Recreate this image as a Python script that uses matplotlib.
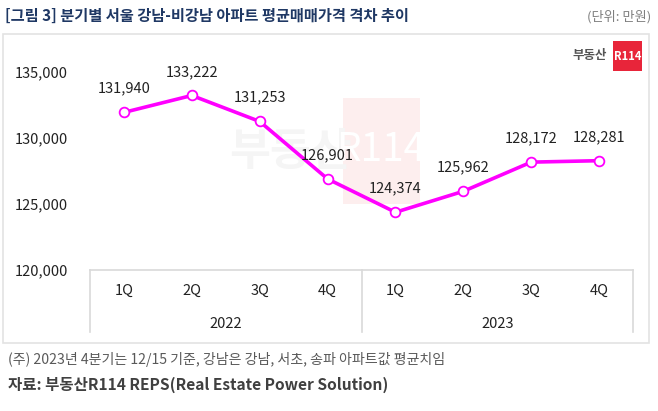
import matplotlib.pyplot as plt
from matplotlib.patches import Rectangle
import matplotlib.transforms as mtransforms

plt.rcParams['font.family'] = ['Noto Sans CJK KR', 'DejaVu Sans']

# data
quarters = ["1Q", "2Q", "3Q", "4Q", "1Q", "2Q", "3Q", "4Q"]
years = ["2022", "2023"]
prices = [131940, 133222, 131253, 126901, 124374, 125962, 128172, 128281]
yticks = [120000, 125000, 130000, 135000]

W, H = 658, 411
fig = plt.figure(figsize=(W / 100, H / 100), dpi=100)

# outer frame box
fig.patches.append(Rectangle((3 / W, 1 - 343 / H), 646 / W, 309 / H, transform=fig.transFigure,
                             facecolor="white", edgecolor="#e3e3e3", lw=1.2, zorder=-3))

# watermark
fig.text(290 / W, 1 - 152 / H, "부동산", fontsize=32, fontweight="bold", color="#f5f5f5",
         ha="center", va="center", zorder=-2)
fig.patches.append(Rectangle((343 / W, 1 - 204 / H), 77 / W, 106 / H, transform=fig.transFigure,
                             facecolor="#fdeeee", edgecolor="none", zorder=-2))
fig.text(381 / W, 1 - 150 / H, "R114", fontsize=28, color="white", ha="center", va="center",
         zorder=-1)

# logo top right
fig.text(607 / W, 1 - 55 / H, "부동산", fontsize=9, fontweight="bold", color="#555555",
         ha="right", va="center")
fig.patches.append(Rectangle((613 / W, 1 - 71 / H), 29 / W, 30 / H, transform=fig.transFigure,
                             facecolor="#e8253a", edgecolor="none"))
fig.text(627.5 / W, 1 - 56 / H, "R114", fontsize=8, fontweight="bold", color="white",
         ha="center", va="center")

ax = fig.add_axes([90 / W, 1 - 270 / H, 543 / W, 220 / H])
ax.patch.set_alpha(0)
x = list(range(len(prices)))
ax.plot(x, prices, color="#ff00ff", lw=2.6, marker="o", ms=7, mfc="white", mec="#ff00ff", mew=1.3,
        zorder=3)
for xi, v in zip(x, prices):
    ax.annotate(f"{v:,}", (xi, v), xytext=(0, 12), textcoords="offset points", ha="center",
                va="bottom", fontsize=10.5, color="#222222")

ax.set_xlim(-0.5, 7.5)
ax.set_ylim(120000, 120000 + 220 / 13.2 * 1000)
ax.set_yticks(yticks)
ax.set_yticklabels([f"{t:,}" for t in yticks], fontsize=10.5, color="#222222")
ax.tick_params(axis="y", length=0, pad=16)
ax.set_xticks([])
for s in ["top", "right", "left"]:
    ax.spines[s].set_visible(False)
ax.spines["bottom"].set_color("#d9d9d9")
ax.spines["bottom"].set_linewidth(1.2)

# category table below axis
tr = mtransforms.blended_transform_factory(ax.transData, ax.transAxes)
ylow = -62 / 220
for xv in [-0.5, 3.5, 7.5]:
    ax.plot([xv, xv], [0, ylow], transform=tr, color="#d9d9d9", lw=1.2, clip_on=False)
for xi, q in zip(x, quarters):
    ax.text(xi, -21 / 220, q, transform=tr, ha="center", va="center", fontsize=10.5, color="#222222")
for i, yr in enumerate(years):
    ax.text(1.5 + 4 * i, -54 / 220, yr, transform=tr, ha="center", va="center", fontsize=10.5,
            color="#222222")

# title and notes
fig.text(5 / W, 1 - 16 / H, "[그림 3] 분기별 서울 강남-비강남 아파트 평균매매가격 격차 추이",
         fontsize=11, fontweight="bold", color="#1f3864", ha="left", va="center")
fig.text(651 / W, 1 - 17 / H, "(단위: 만원)", fontsize=9.5, color="#7f7f7f", ha="right", va="center")
fig.text(8 / W, 1 - 359 / H, "(주) 2023년 4분기는 12/15 기준, 강남은 강남, 서초, 송파 아파트값 평균치임",
         fontsize=10.1, color="#595959", ha="left", va="center")
fig.text(8 / W, 1 - 385 / H, "자료: 부동산R114 REPS(Real Estate Power Solution)",
         fontsize=11.2, fontweight="bold", color="#404040", ha="left", va="center")

fig.savefig("out.png", dpi=100)
